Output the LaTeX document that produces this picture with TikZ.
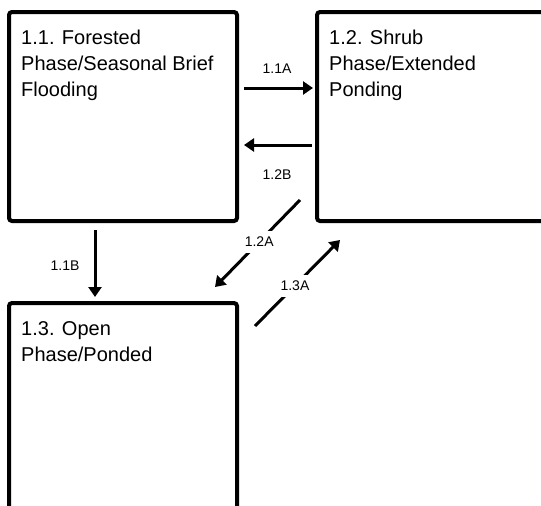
\documentclass[tikz,border=0pt]{standalone}
\usepackage{fontspec}
\setmainfont{Liberation Sans}
\usetikzlibrary{arrows.meta,positioning}

\begin{document}
\begin{tikzpicture}
			[x=1pt, y=-1pt,
			phase/.style={draw, line width=4pt, rounded corners=3pt, outer sep=0pt, inner sep=0pt, minimum width=228pt, minimum height=209pt},
			phasetext/.style={inner sep=0pt, align=left, font=\fontsize{20}{26}\selectfont},
			trans/.style={-{Triangle[length=10pt,width=13pt]}, line width=3pt},
			lbl/.style={inner sep=0pt, font=\fontsize{14}{16}\selectfont},
			gaplbl/.style={lbl, fill=white, inner sep=6pt}]
			\useasboundingbox (0,0) rectangle (541,506);
			\clip (0,0) rectangle (541,506);
			% phase boxes
			\node[phase, anchor=north west] (P11) at (9,12) {};
			\node[phase, anchor=north west, minimum width=260pt] (P12) at (317,12) {};
			\node[phase, anchor=north west, minimum height=240pt] (P13) at (9,303) {};

			\node[phasetext, below right=18pt and 12pt of P11.north west] (T11) {1.1. Forested\\Phase/Seasonal Brief\\Flooding};
			\node[phasetext, below right=18pt and 12pt of P12.north west] (T12) {1.2. Shrub\\Phase/Extended\\Ponding};
			\node[phasetext, below right=18pt and 12pt of P13.north west] (T13) {1.3. Open\\Phase/Ponded};

			% transitions
			\draw[trans, shorten <=7pt, shorten >=4pt] ([yshift=-76pt]P11.north east) -- ([yshift=-76pt]P12.north west) node[lbl, midway, above=13pt] {1.1A};
			\draw[trans, shorten <=5pt, shorten >=7pt] ([yshift=-133pt]P12.north west) -- ([yshift=-133pt]P11.north east) node[lbl, midway, below=23pt] {1.2B};
			\draw[trans, shorten <=9pt, shorten >=6pt] ([xshift=86pt]P11.south west) -- ([xshift=86pt]P13.north west) node[lbl, pos=0.55, left=14pt] {1.1B};
			\draw[trans] ([shift={(-17pt,21pt)}]P12.south west) -- ([shift={(-22pt,16pt)}]P13.north east) node[gaplbl, pos=0.48] {1.2A};
			\draw[trans] ([shift={(18pt,-23pt)}]P13.north east) -- ([shift={(23pt,-19pt)}]P12.south west) node[gaplbl, pos=0.47] {1.3A};
			\end{tikzpicture}
\end{document}
